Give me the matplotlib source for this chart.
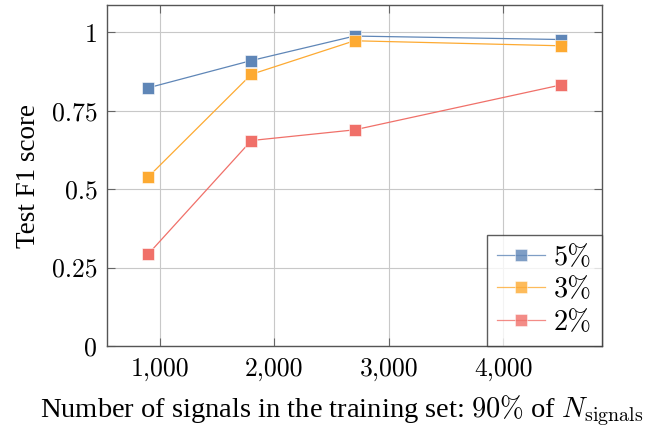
import numpy as np
import matplotlib.pyplot as plt
from matplotlib.ticker import FuncFormatter

plt.rcParams['font.family'] = ['Liberation Serif', 'DejaVu Serif']
plt.rcParams['mathtext.fontset'] = 'cm'

n_train = [900, 1800, 2700, 4500]
f1_5 = [0.823, 0.910, 0.988, 0.977]
f1_3 = [0.539, 0.866, 0.973, 0.957]
f1_2 = [0.293, 0.655, 0.689, 0.832]
labels = ['5%', '3%', '2%']
colors = ['#5f86b7', '#fdaa32', '#f07069']

fig = plt.figure(figsize=(6.7, 4.28), dpi=100)
ax = fig.add_axes([107 / 670, 1 - 346 / 428, 495 / 670, 341 / 428])

for ys, lab, c in zip([f1_5, f1_3, f1_2], labels, colors):
    ax.plot(n_train, ys, color=c, lw=0.9, marker='s', ms=9,
            markeredgecolor='white', markeredgewidth=0.4, label=lab)

ax.set_xlim(540, 4860)
ax.set_ylim(0, 1.087)
ax.set_xticks([1000, 2000, 3000, 4000])
ax.set_yticks([0, 0.25, 0.5, 0.75, 1])
ax.xaxis.set_major_formatter(FuncFormatter(lambda v, p: f'{int(v):,}'))
ax.yaxis.set_major_formatter(FuncFormatter(lambda v, p: f'{v:g}'))
ax.grid(color='#c8c8c8', lw=0.8)
ax.set_axisbelow(True)
ax.tick_params(direction='in', top=True, right=True, length=6,
               color='#666666', labelsize=18.5)
ax.tick_params(axis='x', pad=8)
ax.tick_params(axis='y', pad=7)
for lbl in ax.get_xticklabels() + ax.get_yticklabels():
    lbl.set_fontfamily('cmr10')
for s in ax.spines.values():
    s.set_color('#555555')
    s.set_linewidth(1.0)

ax.set_xlabel(r'Number of signals in the training set: $90\%$ of $N_{\mathrm{signals}}$',
              fontsize=20.5)
ax.xaxis.set_label_coords(0.475, -0.138)
ax.set_ylabel('Test F1 score', fontsize=19.5, labelpad=8)

leg = ax.legend(loc='lower right', frameon=True, fancybox=False,
                borderaxespad=0, handlelength=1.7, borderpad=0.35,
                labelspacing=0.22, handletextpad=0.3,
                prop={'family': 'cmr10', 'size': 20.5})
leg.get_frame().set_edgecolor('#333333')
leg.get_frame().set_linewidth(1.0)
for h in leg.get_lines():
    h.set_alpha(0.8)

fig.savefig('out.png', dpi=100)
